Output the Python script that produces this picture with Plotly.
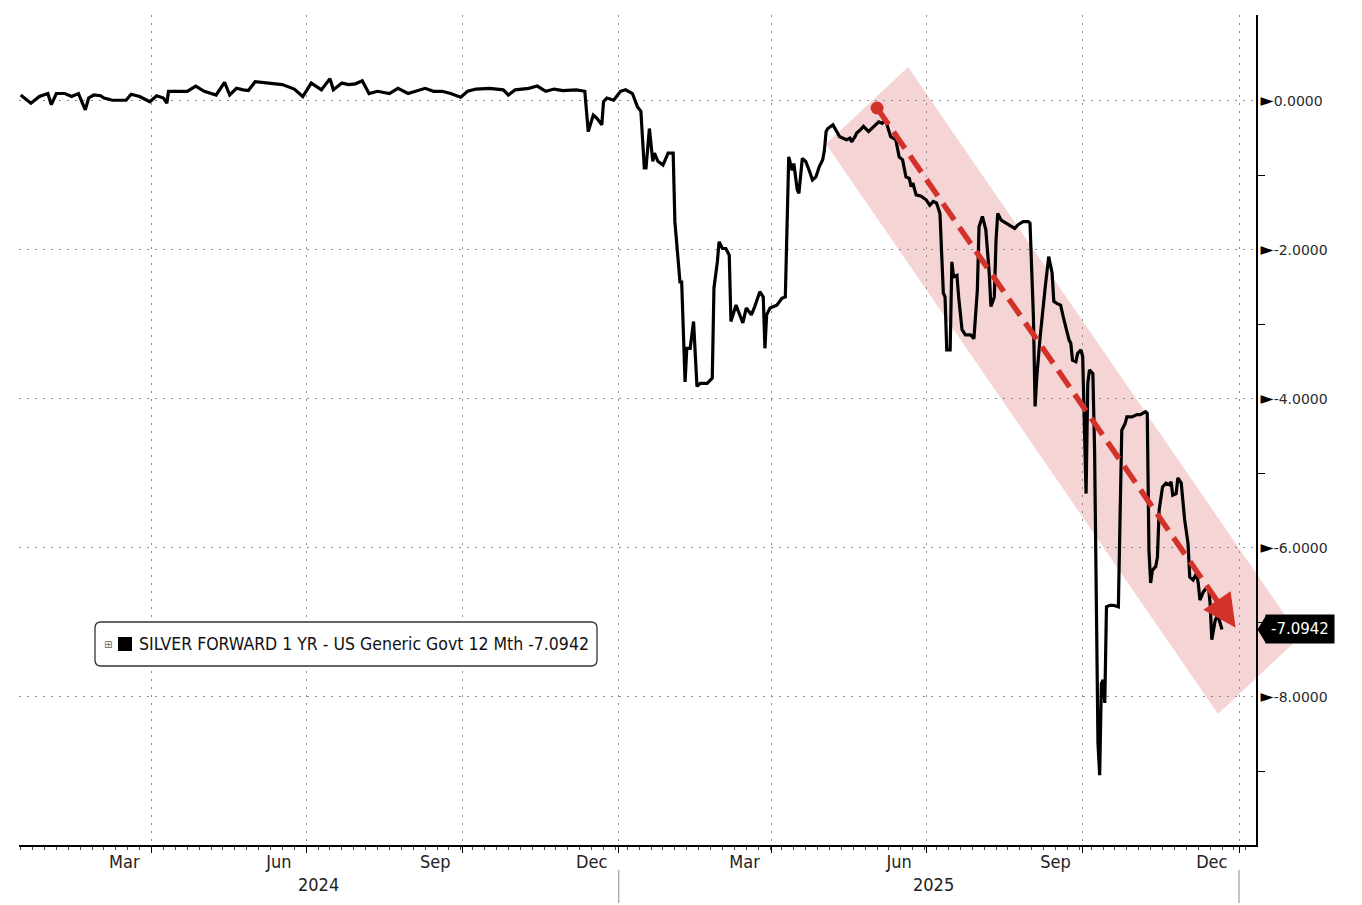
import pandas as pd
import plotly.graph_objects as go

# ---------------- data ----------------
dates = [
    "2024-01-15", "2024-01-21", "2024-01-26", "2024-01-31", "2024-02-02", "2024-02-05", "2024-02-10",
    "2024-02-14", "2024-02-18", "2024-02-22", "2024-02-24", "2024-02-27", "2024-03-02", "2024-03-04",
    "2024-03-09", "2024-03-17", "2024-03-20", "2024-03-25", "2024-03-31", "2024-04-04", "2024-04-08",
    "2024-04-10", "2024-04-11", "2024-04-22", "2024-04-27", "2024-05-02", "2024-05-09", "2024-05-14",
    "2024-05-17", "2024-05-21", "2024-05-25", "2024-05-28", "2024-06-01", "2024-06-09", "2024-06-17",
    "2024-06-24", "2024-06-29", "2024-07-04", "2024-07-10", "2024-07-15", "2024-07-17", "2024-07-22",
    "2024-07-26", "2024-07-30", "2024-08-03", "2024-08-07", "2024-08-12", "2024-08-19", "2024-08-24",
    "2024-08-30", "2024-09-04", "2024-09-09", "2024-09-14", "2024-09-19", "2024-09-24", "2024-09-30",
    "2024-10-04", "2024-10-09", "2024-10-17", "2024-10-25", "2024-10-28", "2024-11-01", "2024-11-09",
    "2024-11-14", "2024-11-19", "2024-11-24", "2024-11-29", "2024-12-07", "2024-12-12", "2024-12-14",
    "2024-12-17", "2024-12-19", "2024-12-22", "2024-12-23", "2024-12-25", "2024-12-29", "2025-01-02",
    "2025-01-05", "2025-01-09", "2025-01-12", "2025-01-14", "2025-01-16", "2025-01-17", "2025-01-19",
    "2025-01-21", "2025-01-22", "2025-01-24", "2025-01-27", "2025-01-30", "2025-02-02", "2025-02-03",
    "2025-02-04", "2025-02-06", "2025-02-07", "2025-02-09", "2025-02-10", "2025-02-12", "2025-02-14",
    "2025-02-16", "2025-02-18", "2025-02-22", "2025-02-25", "2025-02-26", "2025-02-28", "2025-03-01",
    "2025-03-03", "2025-03-05", "2025-03-07", "2025-03-08", "2025-03-11", "2025-03-13", "2025-03-15",
    "2025-03-17", "2025-03-20", "2025-03-22", "2025-03-25", "2025-03-27", "2025-03-28", "2025-03-29",
    "2025-03-31", "2025-04-04", "2025-04-07", "2025-04-09", "2025-04-11", "2025-04-13", "2025-04-14",
    "2025-04-16", "2025-04-17", "2025-04-19", "2025-04-21", "2025-04-23", "2025-04-25", "2025-04-27",
    "2025-04-29", "2025-05-01", "2025-05-02", "2025-05-03", "2025-05-04", "2025-05-07", "2025-05-09",
    "2025-05-11", "2025-05-13", "2025-05-15", "2025-05-17", "2025-05-18", "2025-05-20", "2025-05-21",
    "2025-05-23", "2025-05-25", "2025-05-28", "2025-05-31", "2025-06-03", "2025-06-05", "2025-06-07",
    "2025-06-10", "2025-06-13", "2025-06-15", "2025-06-17", "2025-06-19", "2025-06-21", "2025-06-22",
    "2025-06-23", "2025-06-25", "2025-06-28", "2025-07-01", "2025-07-03", "2025-07-05", "2025-07-07",
    "2025-07-09", "2025-07-11", "2025-07-12", "2025-07-13", "2025-07-15", "2025-07-16", "2025-07-17",
    "2025-07-19", "2025-07-20", "2025-07-22", "2025-07-24", "2025-07-27", "2025-07-29", "2025-07-31",
    "2025-08-01", "2025-08-03", "2025-08-05", "2025-08-07", "2025-08-08", "2025-08-10", "2025-08-11",
    "2025-08-12", "2025-08-14", "2025-08-17", "2025-08-20", "2025-08-22", "2025-08-24", "2025-08-27",
    "2025-08-30", "2025-08-31", "2025-09-02", "2025-09-03", "2025-09-04", "2025-09-06", "2025-09-09",
    "2025-09-11", "2025-09-13", "2025-09-14", "2025-09-16", "2025-09-18", "2025-09-20", "2025-09-21",
    "2025-09-23", "2025-09-24", "2025-09-25", "2025-09-27", "2025-09-28", "2025-09-30", "2025-10-01",
    "2025-10-03", "2025-10-04", "2025-10-05", "2025-10-07", "2025-10-08", "2025-10-09", "2025-10-10",
    "2025-10-11", "2025-10-12", "2025-10-13", "2025-10-14", "2025-10-15", "2025-10-17", "2025-10-19",
    "2025-10-22", "2025-10-23", "2025-10-24", "2025-10-26", "2025-10-27", "2025-10-30", "2025-11-02",
    "2025-11-04", "2025-11-06", "2025-11-07", "2025-11-08", "2025-11-09", "2025-11-10", "2025-11-11",
    "2025-11-13", "2025-11-14", "2025-11-15", "2025-11-17", "2025-11-19", "2025-11-21", "2025-11-22",
    "2025-11-23", "2025-11-25", "2025-11-26", "2025-11-28", "2025-11-30", "2025-12-02", "2025-12-03",
    "2025-12-05", "2025-12-07", "2025-12-08", "2025-12-09", "2025-12-11", "2025-12-12", "2025-12-14",
    "2025-12-15", "2025-12-16", "2025-12-18", "2025-12-19", "2025-12-20", "2025-12-22",
]
values = [
    0.08, -0.03, 0.06, 0.10, -0.05, 0.10, 0.10,
    0.06, 0.10, -0.12, 0.04, 0.08, 0.07, 0.04,
    0.01, 0.01, 0.09, 0.06, -0.01, 0.07, 0.04,
    -0.03, 0.13, 0.13, 0.20, 0.13, 0.08, 0.25,
    0.08, 0.17, 0.15, 0.14, 0.26, 0.24, 0.22,
    0.16, 0.06, 0.24, 0.15, 0.30, 0.15, 0.24,
    0.22, 0.23, 0.27, 0.10, 0.13, 0.10, 0.17,
    0.10, 0.13, 0.17, 0.13, 0.13, 0.10, 0.05,
    0.13, 0.16, 0.17, 0.15, 0.08, 0.15, 0.17,
    0.20, 0.13, 0.16, 0.14, 0.15, 0.13, -0.41,
    -0.19, -0.23, -0.32, -0.01, 0.04, 0.01, 0.13,
    0.15, 0.10, -0.08, -0.14, -0.90, -0.90, -0.37,
    -0.81, -0.70, -0.81, -0.86, -0.70, -0.70, -1.62,
    -1.89, -2.43, -2.43, -3.77, -3.32, -3.32, -2.96,
    -3.83, -3.79, -3.79, -3.72, -2.51, -2.16, -1.89,
    -1.98, -1.98, -2.07, -2.96, -2.74, -2.87, -2.98,
    -2.78, -2.87, -2.76, -2.56, -2.63, -3.32, -2.87,
    -2.78, -2.74, -2.65, -2.63, -0.75, -0.93, -0.84,
    -1.19, -1.24, -0.77, -0.81, -0.93, -1.06, -1.02,
    -0.88, -0.79, -0.66, -0.41, -0.37, -0.32, -0.41,
    -0.48, -0.50, -0.52, -0.50, -0.55, -0.48, -0.43,
    -0.39, -0.34, -0.41, -0.34, -0.28, -0.30, -0.26,
    -0.48, -0.52, -0.75, -0.79, -1.02, -1.04, -1.15,
    -1.10, -1.26, -1.28, -1.33, -1.40, -1.35, -1.37,
    -1.51, -2.58, -2.63, -3.34, -3.34, -2.16, -2.36,
    -2.34, -2.63, -3.07, -3.14, -3.14, -3.19, -2.54,
    -1.69, -1.55, -1.73, -2.31, -2.76, -2.63, -1.87,
    -1.51, -1.60, -1.64, -1.69, -1.71, -1.66, -1.62,
    -1.62, -1.64, -2.90, -4.10, -3.70, -3.16, -2.49,
    -2.09, -2.31, -2.69, -2.72, -2.74, -2.94, -3.03,
    -3.21, -3.25, -3.48, -3.50, -3.39, -3.34, -3.43,
    -5.27, -3.79, -3.61, -3.66, -4.68, -6.92, -8.62,
    -9.05, -7.82, -7.77, -8.08, -6.79, -6.77, -6.77,
    -6.79, -5.58, -4.42, -4.33, -4.24, -4.24, -4.21,
    -4.21, -4.19, -4.17, -4.19, -6.03, -6.47, -6.30,
    -6.25, -6.12, -5.49, -5.18, -5.13, -5.15, -5.11,
    -5.29, -5.27, -5.06, -5.13, -5.62, -5.94, -6.39,
    -6.43, -6.34, -6.47, -6.70, -6.59, -6.56, -6.52,
    -6.74, -7.23, -6.97, -6.92, -6.94, -7.0942,
]

series_name = "SILVER FORWARD 1 YR - US Generic Govt 12 Mth"
last_value = values[-1]

x_range = ["2024-01-14", "2026-01-11"]
y_range = [-9.987, 1.154]

y_tick_vals = [0, -2, -4, -6, -8]
y_minor_vals = [-1, -3, -5, -7, -9]
quarter_starts = ["2024-04-01", "2024-07-01", "2024-10-01", "2025-01-01",
                  "2025-04-01", "2025-07-01", "2025-10-01", "2026-01-01"]
month_label_dates = ["2024-03-16", "2024-06-15", "2024-09-15", "2024-12-16",
                     "2025-03-16", "2025-06-15", "2025-09-15", "2025-12-16"]
month_labels = ["Mar", "Jun", "Sep", "Dec", "Mar", "Jun", "Sep", "Dec"]
year_label_dates = ["2024-07-08", "2025-07-05"]
year_labels = ["2024", "2025"]
year_boundaries = ["2025-01-01", "2026-01-01"]

# trend annotation (drawn by the author of the chart)
trend_start = ("2025-06-02", -0.094)
trend_end = ("2025-12-30", -7.07)
# channel polygon corners in plot-area fractions
band_corners = [(0.7187, 0.9373), (1.0356, 0.2506), (0.9693, 0.1578), (0.6524, 0.8446)]

RED = "#d3322b"
NARROW = "Liberation Sans Narrow, Arial Narrow, DejaVu Sans Condensed, Liberation Sans, sans-serif"
DEJAVU = "DejaVu Sans, Verdana, sans-serif"

W, H = 1362, 905
ML, MR, MT, MB = 19, 106, 15, 60
PW, PH = W - ML - MR, H - MT - MB

fig = go.Figure()

fig.add_trace(go.Scatter(
    x=dates, y=values, mode="lines",
    line=dict(color="#000000", width=3.2),
    name=series_name, showlegend=False, hoverinfo="skip",
))

# start dot of the trend arrow
fig.add_trace(go.Scatter(
    x=[trend_start[0]], y=[trend_start[1]], mode="markers",
    marker=dict(color=RED, size=13), showlegend=False, hoverinfo="skip", cliponaxis=False,
))

# dummy trace for the label axis
fig.add_trace(go.Scatter(
    x=[dates[0]], y=[values[0]], xaxis="x2", mode="markers",
    marker=dict(opacity=0), showlegend=False, hoverinfo="skip",
))

shapes = []
# pink channel
p = band_corners
path = "M {} {} L {} {} L {} {} L {} {} Z".format(p[0][0], p[0][1], p[1][0], p[1][1],
                                                  p[2][0], p[2][1], p[3][0], p[3][1])
shapes.append(dict(type="path", path=path, xref="paper", yref="paper",
                   fillcolor="rgba(214,96,96,0.27)", line=dict(width=0), layer="below"))

# dashed trend shaft
t0 = pd.Timestamp(trend_start[0]); t1 = pd.Timestamp(trend_end[0])
frac = 0.95
shaft_x = t0 + (t1 - t0) * frac
shaft_y = trend_start[1] + (trend_end[1] - trend_start[1]) * frac
shapes.append(dict(type="line", xref="x", yref="y",
                   x0=trend_start[0], y0=trend_start[1], x1=shaft_x, y1=shaft_y,
                   line=dict(color=RED, width=5.5, dash="20px,9px"), layer="above"))

# year separators below the axis
for d in year_boundaries:
    shapes.append(dict(type="line", xref="x", yref="paper", x0=d, x1=d, y0=-0.03, y1=-0.07,
                       line=dict(color="#888888", width=1)))

# legend box (rounded)
lx0, lx1 = (95 - ML) / PW, (597 - ML) / PW
ly1, ly0 = (845 - 622) / PH, (845 - 666) / PH
rx, ry = 6 / PW, 6 / PH
legend_path = (f"M {lx0+rx} {ly1} L {lx1-rx} {ly1} Q {lx1} {ly1} {lx1} {ly1-ry} "
               f"L {lx1} {ly0+ry} Q {lx1} {ly0} {lx1-rx} {ly0} L {lx0+rx} {ly0} "
               f"Q {lx0} {ly0} {lx0} {ly0+ry} L {lx0} {ly1-ry} Q {lx0} {ly1} {lx0+rx} {ly1} Z")
shapes.append(dict(type="path", path=legend_path, xref="paper", yref="paper",
                   fillcolor="white", line=dict(color="#333333", width=1.3), layer="above"))
# black swatch
shapes.append(dict(type="rect", xref="paper", yref="paper",
                   x0=(118 - ML) / PW, x1=(132 - ML) / PW,
                   y0=(845 - 651) / PH, y1=(845 - 637) / PH,
                   fillcolor="#000000", line=dict(width=0), layer="above"))

# end-value tag pointer
tip_x = 1 + 1.5 / PW
base_x = 1 + 10 / PW
half_h = 14 * (y_range[1] - y_range[0]) / PH
shapes.append(dict(type="path", xref="paper", yref="y",
                   path=f"M {tip_x} {last_value} L {base_x} {last_value+half_h} L {base_x} {last_value-half_h} Z",
                   fillcolor="#000000", line=dict(width=0), layer="above"))

annotations = []
# arrow head
annotations.append(dict(x=trend_end[0], y=trend_end[1], xref="x", yref="y", text="",
                        showarrow=True, arrowhead=2, arrowsize=1.2, arrowwidth=5.5,
                        arrowcolor=RED, ax=-13, ay=-19))
# end value tag
annotations.append(dict(x=1, xref="paper", y=last_value, yref="y", xanchor="left", yanchor="middle",
                        xshift=9, text=f"{last_value:.4f}", showarrow=False,
                        bgcolor="#000000", borderpad=5,
                        font=dict(family=DEJAVU, size=15, color="#ffffff")))
# legend texts
annotations.append(dict(x=(108 - ML) / PW, y=(845 - 644) / PH, xref="paper", yref="paper",
                        text="⊞", showarrow=False, xanchor="center", yanchor="middle",
                        font=dict(family=DEJAVU, size=10, color="#666666")))
annotations.append(dict(x=(137 - ML) / PW, y=(845 - 644) / PH, xref="paper", yref="paper",
                        text=f"{series_name} {last_value:.4f}", showarrow=False,
                        xanchor="left", yanchor="middle",
                        font=dict(family=NARROW, size=17.5, color="#111111")))
# year labels
for d, lab in zip(year_label_dates, year_labels):
    annotations.append(dict(x=d, xref="x", y=-0.047, yref="paper", text=lab, showarrow=False,
                            xanchor="center", yanchor="middle",
                            font=dict(family=NARROW, size=18, color="#222222")))

tri = "<span style='font-size:17px;color:#000'>►</span>"

fig.update_layout(
    width=W, height=H,
    margin=dict(l=ML, r=MR, t=MT, b=MB, pad=0),
    paper_bgcolor="white", plot_bgcolor="rgba(0,0,0,0)",
    showlegend=False,
    shapes=shapes, annotations=annotations,
    xaxis=dict(
        type="date", range=x_range, tickmode="array", tickvals=quarter_starts,
        showticklabels=False, ticks="outside", ticklen=6, tickcolor="#000",
        showgrid=True, gridcolor="#8c8c8c", gridwidth=1, griddash="2px,6px",
        showline=True, linecolor="#000", linewidth=1.5, zeroline=False,
        minor=dict(dtick=7 * 86400000, tick0="2024-01-01", ticks="outside", ticklen=3,
                   tickcolor="#444", showgrid=False),
    ),
    xaxis2=dict(
        type="date", range=x_range, overlaying="x", anchor="y", side="bottom",
        tickmode="array", tickvals=month_label_dates, ticktext=month_labels,
        ticks="outside", ticklen=0.5, tickcolor="rgba(0,0,0,0)",
        showgrid=False, showline=False, zeroline=False,
        tickfont=dict(family=NARROW, size=18, color="#222222"),
    ),
    yaxis=dict(
        range=y_range, side="right", tickmode="array", tickvals=y_tick_vals,
        ticktext=[tri + f"{v:.4f}".replace("-0.0000", "0.0000") for v in y_tick_vals],
        ticks="", showgrid=True, gridcolor="#8c8c8c", gridwidth=1, griddash="2px,6px",
        showline=True, linecolor="#000", linewidth=1.5, zeroline=False,
        tickfont=dict(family=DEJAVU, size=14, color="#2a2a2a"),
        minor=dict(tickvals=y_minor_vals, ticks="outside", ticklen=7, tickcolor="#000",
                   showgrid=False),
    ),
)

fig.write_html("out.html", config={"displayModeBar": False},
               post_script="document.body.style.margin='0';document.body.style.overflow='hidden';")
